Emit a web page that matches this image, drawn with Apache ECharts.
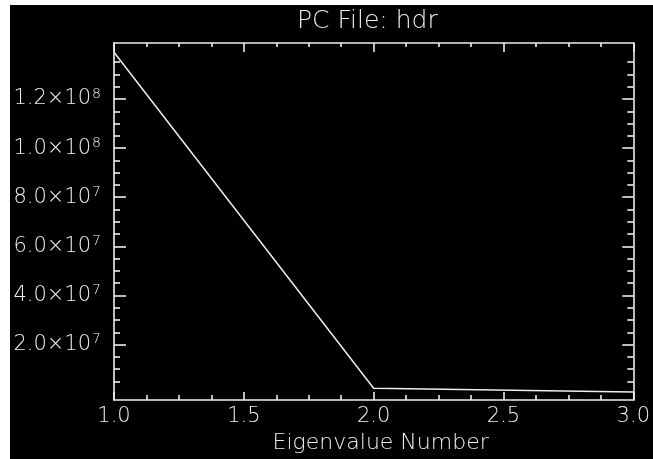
<!DOCTYPE html>
<html>
<head>
<meta charset="utf-8">
<script src="https://cdn.jsdelivr.net/npm/echarts@6/dist/echarts.min.js"></script>
<style>
  html, body { margin: 0; padding: 0; background: #ffffff; }
  #chart { position: absolute; left: 10px; top: 5px; width: 643px; height: 454px; background: #000000; }
</style>
</head>
<body>
<div id="chart"></div>
<script>
// Eigenvalue spectrum of the principal-component file
const eigenNumbers = [1, 2, 3];
const eigenValues = [1.39e8, 2.2e6, 7e5];

// Axis tick values
const xTickValues = [1.0, 1.5, 2.0, 2.5, 3.0];
const yMajorValues = [2e7, 4e7, 6e7, 8e7, 1e8, 1.2e8];
const yMinorValues = [5e6, 1e7, 1.5e7, 2.5e7, 3e7, 3.5e7, 4.5e7, 5e7, 5.5e7, 6.5e7, 7e7, 7.5e7,
                      8.5e7, 9e7, 9.5e7, 1.05e8, 1.1e8, 1.15e8, 1.25e8, 1.3e8, 1.35e8];

const titleText = 'PC File: hdr';
const xAxisTitle = 'Eigenvalue Number';

const FG = '#eeeeee';
const FONT = '"DejaVu Sans", sans-serif';
const Y_MIN = -2.6e6, Y_MAX = 1.428e8;
const X_MIN = xTickValues[0], X_MAX = xTickValues[xTickValues.length - 1];

function sciLabel(v) {
  const exp = Math.floor(Math.log10(v) + 1e-9);
  const mant = (v / Math.pow(10, exp)).toFixed(1);
  return '{m|' + mant + '×10}{e|' + exp + '}';
}

const chart = echarts.init(document.getElementById('chart'), null, { renderer: 'canvas' });

const hidden = { show: false };
function yAxisDef(position, values, tickLen, withLabels, withLine) {
  return {
    type: 'value', position: position, min: Y_MIN, max: Y_MAX,
    axisLine: { show: withLine, onZero: false, lineStyle: { color: FG, width: 1.6 } },
    axisTick: { show: true, inside: true, length: tickLen, customValues: values,
                lineStyle: { color: FG, width: 1.6 } },
    axisLabel: withLabels ? {
      show: true, customValues: values, margin: 13, formatter: sciLabel,
      rich: {
        m: { color: FG, fontFamily: FONT, fontSize: 21, fontWeight: 200, lineHeight: 24 },
        e: { color: FG, fontFamily: FONT, fontSize: 14, fontWeight: 200, verticalAlign: 'top', lineHeight: 14, padding: [0, 0, 14, 1] }
      }
    } : hidden,
    splitLine: hidden
  };
}
function xAxisDef(position, tickLen, minorLen, withLabels) {
  return {
    type: 'value', position: position, min: X_MIN, max: X_MAX, interval: 0.5,
    axisLine: { show: true, onZero: false, lineStyle: { color: FG, width: 1.6 } },
    axisTick: { show: true, inside: true, length: tickLen, lineStyle: { color: FG, width: 1.6 } },
    minorTick: { show: true, splitNumber: 4, length: minorLen, lineStyle: { color: FG, width: 1.6 } },
    axisLabel: withLabels ? {
      show: true, margin: 6, color: FG, fontFamily: FONT, fontSize: 21, fontWeight: 200,
      customValues: xTickValues,
      formatter: v => v.toFixed(1)
    } : hidden,
    name: withLabels ? xAxisTitle : '',
    nameLocation: 'middle', nameGap: 31,
    nameTextStyle: { color: FG, fontFamily: FONT, fontSize: 22, fontWeight: 200, padding: [0, 0, 0, 14] },
    splitLine: hidden, minorSplitLine: hidden
  };
}

chart.setOption({
  animation: false,
  backgroundColor: '#000000',
  title: {
    text: titleText, left: 287, top: 4, padding: 0,
    textStyle: { color: FG, fontFamily: FONT, fontSize: 25, fontWeight: 200 }
  },
  grid: { left: 104, top: 38, width: 525, height: 364, containLabel: false },
  xAxis: [
    xAxisDef('bottom', 8, 5, true),
    xAxisDef('top', 9, 4, false)
  ],
  yAxis: [
    yAxisDef('left', yMajorValues, 12, true, true),
    yAxisDef('left', yMinorValues, 6, false, false),
    yAxisDef('right', yMajorValues, 11, false, true),
    yAxisDef('right', yMinorValues, 6, false, false)
  ],
  series: [{
    type: 'line',
    xAxisIndex: 0, yAxisIndex: 0,
    data: eigenNumbers.map((n, i) => [n, eigenValues[i]]),
    showSymbol: false, symbol: 'none',
    lineStyle: { color: FG, width: 1.5 },
    itemStyle: { color: FG },
    clip: false
  }]
});
</script>
</body>
</html>
